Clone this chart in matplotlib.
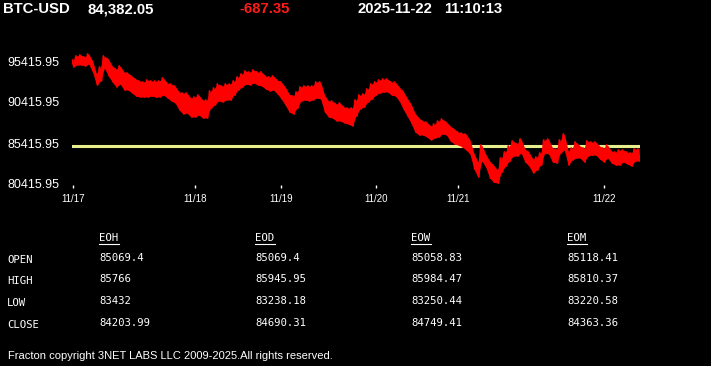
import matplotlib
matplotlib.use('Agg')
import matplotlib.pyplot as plt
from matplotlib.transforms import ScaledTranslation

# upper / lower edge of the noisy price trace, one sample every ~4px of the chart
price_hi = [95908, 96396, 96518, 96274, 96640, 95786, 94200, 95054, 96396, 96030,
            95176, 94810, 95176, 94444, 94322, 93956, 93590, 93346, 93224, 93468,
            93346, 93346, 93346, 93712, 93102, 92980, 92736, 92004, 91882, 91882,
            91272, 91394, 91638, 91028, 91028, 92126, 92492, 92980, 92736, 92980,
            92980, 93346, 93834, 94200, 94566, 94444, 94688, 94444, 94444, 93956,
            93834, 93956, 93468, 93224, 92614, 91760, 91516, 92004, 92614, 92736,
            92736, 92736, 93224, 93224, 91638, 90906, 90906, 90540, 90662, 90174,
            90052, 90052, 91028, 91638, 91760, 92370, 92980, 93224, 93468, 93590,
            93590, 93224, 93224, 92614, 92126, 91272, 90540, 89442, 88832, 88466,
            88344, 87856, 88100, 88466, 88710, 88344, 87856, 87490, 87124, 87002,
            86880, 86148, 84562, 83464, 85538, 84440, 83586, 83098, 82488, 83952,
            84684, 85416, 86026, 85660, 86270, 85050, 84684, 83830, 84074, 84562,
            86148, 86270, 85172, 85050, 86148, 86880, 84806, 85172, 85904, 85416,
            85172, 86026, 85904, 85904, 85416, 85172, 85538, 84806, 84684, 84928,
            84928, 84684, 84562, 85050, 85050]
price_lo = [95054, 95298, 95298, 95176, 95420, 94444, 92858, 93346, 94932, 93956,
            93224, 92614, 92980, 92248, 92248, 91882, 91516, 91394, 91394, 91394,
            91516, 91394, 91394, 91638, 91272, 90906, 90662, 89808, 89320, 89442,
            88954, 88954, 89198, 88832, 88832, 90052, 90418, 90906, 90784, 91028,
            91028, 91638, 92248, 92614, 92980, 92858, 93102, 92858, 92736, 92370,
            92126, 92248, 91760, 91150, 90418, 89564, 89320, 90052, 90906, 91028,
            90906, 91028, 91272, 91150, 89564, 88954, 88832, 88466, 88466, 88222,
            88100, 87856, 89076, 89930, 90174, 90784, 91150, 91638, 91882, 92004,
            92004, 91638, 91516, 90906, 89930, 89076, 88222, 87124, 86758, 86758,
            86514, 86148, 86392, 86514, 86880, 86758, 86026, 85660, 85538, 85294,
            84928, 84440, 82610, 81634, 83586, 82854, 81512, 81000, 80900, 82244,
            82976, 83586, 84196, 84196, 84562, 83464, 82976, 82122, 82488, 83098,
            84562, 84440, 83464, 83342, 84562, 84928, 83098, 83708, 83952, 83952,
            83464, 84196, 84318, 84318, 83830, 83464, 83952, 83342, 83098, 83098,
            83464, 83220, 82976, 83586, 83586]

ref_price = 85415.95
day_ticks = [0, 31, 53, 77, 98, 135]
day_labels = ['11/17', '11/18', '11/19', '11/20', '11/21', '11/22']
y_ticks = [95415.95, 90415.95, 85415.95, 80415.95]

symbol = 'BTC-USD'
last = '84,382.05'
change = '-687.35'
date_str = '2025-11-22'
time_str = '11:10:13'

row_names = ['OPEN', 'HIGH', 'LOW', 'CLOSE']
col_names = ['EOH', 'EOD', 'EOW', 'EOM']
table_vals = [['85069.4', '85069.4', '85058.83', '85118.41'],
              ['85766', '85945.95', '85984.47', '85810.37'],
              ['83432', '83238.18', '83250.44', '83220.58'],
              ['84203.99', '84690.31', '84749.41', '84363.36']]
footer = 'Fracton copyright 3NET LABS LLC 2009-2025.All rights reserved.'

W, H = 711, 366
fig = plt.figure(figsize=(W / 100, H / 100), dpi=100, facecolor='black')

# chart area (pixel box 72..640 x 50..188)
ax = fig.add_axes([72 / W, 1 - 188 / H, 568 / W, 138 / H])
ax.set_facecolor('black')
px_per_usd = 41 / 5000
ax.set_ylim(ref_price - 42 / px_per_usd, ref_price + 96 / px_per_usd)
n = len(price_hi)
ax.set_xlim(-0.25, n - 0.75)

ax.axhline(ref_price, color='#e6ef8c', lw=2.2, zorder=1)

idx = list(range(n))
zx, zy = [], []
for i in idx:
    zx += [i - 0.25, i + 0.25]
    zy += [price_hi[i], price_lo[i]]
ax.fill_between(idx, price_lo, price_hi, color='#ff0000', lw=0, zorder=2)
ax.plot(zx, zy, color='#ff0000', lw=1.3, zorder=3)

for s in ax.spines.values():
    s.set_visible(False)

ax.set_xticks(day_ticks)
ax.set_xticklabels(day_labels, fontsize=7, color='white', family='Liberation Sans')
ax.tick_params(axis='x', direction='in', length=2.5, width=1, color='white', pad=4)
ax.set_yticks(y_ticks)
ax.set_yticklabels([f'{v:.2f}' for v in y_ticks], fontsize=9, color='white',
                   family='Liberation Sans')
ax.tick_params(axis='y', length=0, pad=9)
shift = ScaledTranslation(0, 3 / 100, fig.dpi_scale_trans)
for lbl in ax.get_yticklabels():
    lbl.set_transform(lbl.get_transform() + shift)

# header
def ftext(x, y, s, **kw):
    fig.text(x / W, 1 - y / H, s, va='center', ha='left', **kw)

hdr = dict(fontsize=10.7, fontweight='bold', family='Liberation Sans')
ftext(3, 9, symbol, color='white', **hdr)
ftext(87, 9, last, color='white', **hdr)
ftext(239, 9, change, color='#ff1a1a', **hdr)
ftext(358, 9, date_str, color='white', **hdr)
ftext(444, 9, time_str, color='white', **hdr)

# OHLC table
mono = dict(fontsize=7.7, family='DejaVu Sans Mono', color='white')
col_x = [99, 255, 411, 567]
row_y = [259, 280.5, 302, 324.5]
for cx, name in zip(col_x, col_names):
    ftext(cx, 238, name, **mono)
    fig.add_artist(plt.Line2D([cx / W, (cx + 20) / W], [1 - 243.5 / H, 1 - 243.5 / H],
                              color='white', lw=0.8))
for ry, name, vals in zip(row_y, row_names, table_vals):
    ftext(7, ry + 1, name, **mono)
    for cx, v in zip(col_x, vals):
        ftext(cx, ry - 1, v, **mono)

ftext(8, 356, footer, color='white', fontsize=8.0, family='Liberation Sans')

fig.savefig('out.png', dpi=100, facecolor='black')
